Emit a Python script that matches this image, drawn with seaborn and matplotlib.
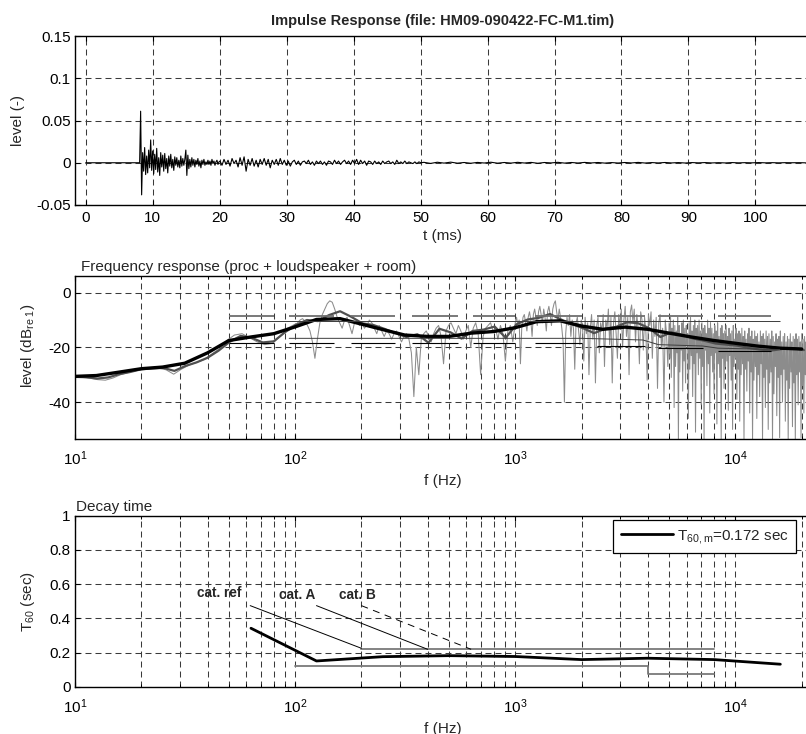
import numpy as np
import pandas as pd
import matplotlib
matplotlib.use("Agg")
import matplotlib.pyplot as plt
from matplotlib.ticker import FixedLocator, FuncFormatter, LogLocator, NullFormatter
import seaborn as sns

# ---------------------------------------------------------------- data
# impulse response, three sample blocks (values in 1e-3), start time (ms), step (ms)
ir_a_start, ir_a_step = 7.9, 0.15
ir_a = [0, 0, 61, -38, 12, -10, 18, -14, 8, -12, 15, -6, 27, -9, 14, -13, 10, -8, 17, -11,
        6, -15, 12, -5, 9, -10, 11, -7, 5, -12, 8, -4, 10, -6, 4, -9, 7, -3, 6, -5,
        3, -6, 8, -4, 5, -3, 4, 15, -15, 9, -7, 4, -5, 6, -3, 4, -5, 3, -2, 5,
        -4, 2, -6, 3, -2, 4, -3, 1, -2, 3, -2, 2, -3, 4, -1, 2, -3, 1, 3, -2, 1]
ir_b_start, ir_b_step = 20.05, 0.3
ir_b = [2, -3, 4, -2, 3, -4, 5, -1, 3, -5, 6, -3, 7, -10, 4, -3, 5,
        -4, 3, -5, 4, -2, 5, -3, 4, -6, 3, -2, 4, -3, 5, -2, 3,
        -3, 2, -4, 1, 3, -2, 2, -3, 1, 2, -1, 3, -2, 1, -3, 2, -1,
        2, -2, 1, -3, 2, 1, -2, 3, -1, 2, -2, 1, 3, -1, 2, -2, 3,
        -1, 4, -2, 3, -1, 2, -3, 2, 1, -2, 2, -1, 1, -2, 2, -1, 1,
        2, -1, 1, -2, 3, -1, 1, -1, 2, -1, 1, 0, -1, 1, -1, 1, 0]
ir_c_start, ir_c_step = 50.5, 1.0
ir_c = [0.5, -0.8, 0.6, -0.4, 0.7, -0.5, 0.3, -0.6, 0.4, -0.3, 0.6, -0.5, 0.3, -0.4, 0.5,
        -0.3, 0.4, -0.6, 0.3, -0.2, 0.5, -0.4, 0.3, -0.3, 0.4, -0.2, 0.3, -0.4, 0.2, -0.3,
        0.3, -0.2, 0.4, -0.3, 0.2, -0.2, 0.3, -0.2, 0.2, -0.3, 0.2, -0.1, 0.2, -0.2, 0.1,
        -0.2, 0.2, -0.1, 0.1, -0.1, 0.2, -0.1, 0.1, -0.1, 0.1, 0, 0.1, -0.1]

# frequency response: raw spectrum in four log-spaced blocks (dB)
raw_blocks = [
    (10, 100, [-30.8, -31.0, -31.3, -31.8, -32.0, -31.2, -30.0, -29.2, -28.5, -28.0,
               -27.7, -27.6, -28.2, -29.8, -28.0, -26.5, -25.5, -24.5, -22.5, -20.5,
               -17.5, -15.5, -15.0, -16.5, -18.0, -19.0, -18.5, -16.0, -13.0, -11.5]),
    (100, 1000, [-12, -11, -10, -9.5, -10.5, -12, -14, -18, -24, -17,
                 -11, -8, -6, -4, -3, -3.5, -6, -9, -11, -13,
                 -10, -9, -12, -15, -11, -10, -12, -11, -13, -12,
                 -10, -11, -13, -15, -12, -14, -16, -14, -15, -17,
                 -15, -14, -16, -18, -16, -15, -17, -22, -38, -20,
                 -30, -17, -15, -14, -16, -18, -15, -13, -12, -16,
                 -26, -14, -12, -11, -13, -15, -12, -14, -17, -14,
                 -12, -20, -13, -11, -15, -30, -16, -13, -12, -11,
                 -14, -13, -17, -12, -15, -25, -14, -12, -18, -11]),
    (1000, 5000, [-11, -9, -12, -10, -26, -13, -9, -8, -11, -14, -9, -7, -10, -16, -8, -6, -9, -12, -7, -5,
                  -8, -11, -6, -9, -14, -7, -5, -8, -12, -6, -4, -3, -7, -10, -6, -9, -13, -18, -40, -15,
                  -9, -12, -8, -16, -10, -13, -28, -11, -9, -14, -19, -10, -12, -25, -9, -15, -11, -30, -13, -8,
                  -17, -10, -33, -12, -9, -22, -11, -14, -8, -27, -10, -13, -6, -19, -9, -33, -11, -7, -15, -24,
                  -8, -12, -6, -20, -10, -5, -16, -9, -30, -7, -4.5, -11, -6, -18, -8, -13, -26, -7, -10, -21,
                  -9, -14, -32, -8, -12, -7, -24, -10, -16, -9, -35, -11, -8, -20, -13, -40, -10, -15, -27, -12]),
    (5000, 22050, [-11, -24, -9, -31, -13, -20, -10, -42, -12, -27, -14, -22, -9, -54, -12, -29, -15, -21, -11, -36,
                   -10, -25, -13, -33, -12, -19, -15, -46, -11, -28, -9, -23, -14, -38, -12, -26, -10, -51, -13, -22,
                   -12, -30, -10, -24, -14, -41, -11, -27, -13, -54, -12, -21, -15, -34, -10, -26, -13, -44, -11, -23,
                   -13, -29, -15, -37, -12, -22, -14, -48, -11, -26, -16, -31, -13, -54, -12, -24, -15, -35, -14, -27,
                   -12, -25, -16, -43, -13, -23, -15, -32, -14, -50, -12, -27, -17, -24, -13, -39, -15, -28, -14, -47,
                   -15, -30, -13, -26, -16, -54, -14, -28, -17, -36, -15, -25, -13, -44, -16, -29, -14, -54, -17, -32,
                   -14, -27, -16, -46, -15, -30, -18, -38, -14, -26, -16, -54, -15, -31, -17, -42, -14, -28, -16, -50,
                   -15, -33, -17, -29, -14, -54, -16, -37, -18, -27, -15, -45, -17, -31, -16, -53, -14, -30, -18, -40,
                   -16, -28, -15, -47, -18, -32, -16, -54, -17, -35, -15, -29, -18, -49, -16, -33, -17, -54, -15, -30,
                   -17, -41, -16, -29, -18, -53, -15, -34, -17, -44, -16, -30, -18, -54, -17, -36, -16, -46, -18, -31]),
]

# 1/6-octave smoothed response, bands from 10 Hz
sixth_start = 10.0
sixth_db = [-30.8, -30.9, -31.4, -31.0, -29.8, -29.0, -28.0, -27.7, -27.5, -28.6,
            -26.8, -25.5, -23.8, -21.2, -18.0, -15.8, -16.5, -18.2, -17.8, -14.5,
            -11.8, -10.0, -10.4, -8.2, -6.8, -8.8, -11.2, -11.8, -13.2, -14.8,
            -16.2, -15.2, -18.3, -13.2, -14.5, -16.8, -14.0, -13.5, -12.4, -16.5,
            -11.5, -9.8, -9.2, -7.8, -9.8, -11.5, -13.0, -14.8, -13.2, -12.5,
            -10.8, -11.2, -13.0, -16.2, -14.5, -15.5, -16.8, -17.6, -18.6, -19.0,
            -19.4, -20.2, -20.8, -21.2, -20.6, -20.3, -21.0]

# 1/3-octave smoothed response
third_hz = [10, 12.5, 16, 20, 25, 31.5, 40, 50, 63, 80, 100, 125, 160, 200, 250, 315, 400,
            500, 630, 800, 1000, 1250, 1600, 2000, 2500, 3150, 4000, 5000, 6300, 8000,
            10000, 12500, 16000, 20000]
third_db = [-30.6, -30.3, -29.0, -27.8, -27.2, -25.8, -22.0, -17.5, -16.2, -15.0, -12.5,
            -9.8, -9.5, -11.5, -13.5, -15.5, -16.0, -16.0, -14.8, -14.2, -12.8, -10.6,
            -10.3, -12.2, -13.4, -12.6, -13.4, -14.8, -16.2, -17.5, -18.5, -19.5, -20.3, -20.6]

# tolerance band segments
tol_lo_hz = [50, 94, 180, 340, 644, 1235, 2360, 4470, 8330]
tol_hi_hz = [80, 150, 285, 551, 1000, 2000, 3900, 7100, 14500]
tol_upper_db = [-8.5] * 9
tol_lower_db = [-18.5, -18.5, -18.5, -18.5, -18.5, -18.5, -19.5, -20.3, -21.3]
ref_upper = (50, 15900, -10.3)
ref_lower_hz = [94, 2000, 3800, 4470, 7100, 8330, 15900]
ref_lower_db = [-16.7, -16.7, -17.3, -19.0, -19.5, -20.3, -20.8]

# decay time per octave band
oct_hz = [63, 125, 250, 500, 1000, 2000, 4000, 8000, 16000]
t60 = [0.343, 0.152, 0.177, 0.183, 0.178, 0.160, 0.168, 0.160, 0.133]
t60_mean = 0.172
cat_ref = ([62.5, 200], [0.475, 0.226])
cat_a = ([125, 400], [0.475, 0.22])
cat_b = ([200, 630], [0.475, 0.22])
lim_upper_hz, lim_upper = [200, 8000], [0.222, 0.222]
lim_lower_hz = [100, 4000, 4000, 8000]
lim_lower = [0.124, 0.124, 0.076, 0.076]

# ---------------------------------------------------------------- style
sns.set_style("ticks")
plt.rcParams.update({
    "font.family": ["Liberation Sans", "DejaVu Sans"],
    "font.size": 11,
    "mathtext.fontset": "custom",
    "mathtext.rm": "Liberation Sans",
    "mathtext.it": "Liberation Sans:italic",
    "mathtext.bf": "Liberation Sans:bold",
    "axes.unicode_minus": False,
    "lines.scale_dashes": False,
    "axes.edgecolor": "black",
    "axes.linewidth": 1.0,
    "xtick.direction": "in", "ytick.direction": "in",
    "xtick.top": True, "ytick.right": True,
    "xtick.major.size": 3.5, "ytick.major.size": 3.5,
    "xtick.minor.size": 2.2, "ytick.minor.size": 2.2,
    "xtick.major.width": 0.8, "ytick.major.width": 0.8,
    "xtick.minor.width": 0.7,
    "xtick.color": "black", "ytick.color": "black",
    "xtick.labelsize": 11, "ytick.labelsize": 11,
    "xtick.major.pad": 4, "ytick.major.pad": 3,
})

W, H = 806, 734
fig = plt.figure(figsize=(W / 100, H / 100), dpi=100)


def axes_px(left, top, right, bottom):
    return fig.add_axes([left / W, 1 - bottom / H, (right - left) / W, (bottom - top) / H])


grid_kw = dict(linestyle=(0, (4.3, 2.9)), color="#3a3a3a", linewidth=0.75)
gfmt = FuncFormatter(lambda v, p: "%g" % v)

# ---------------------------------------------------------------- impulse response
ax1 = axes_px(75, 36, 811, 205)
t_ms = np.concatenate([[0.0],
                       ir_a_start + np.arange(len(ir_a)) * ir_a_step,
                       ir_b_start + np.arange(len(ir_b)) * ir_b_step,
                       ir_c_start + np.arange(len(ir_c)) * ir_c_step])
level = np.concatenate([[0.0], ir_a, ir_b, ir_c]) * 1e-3
ir_df = pd.DataFrame({"t": t_ms, "level": level})
sns.lineplot(data=ir_df, x="t", y="level", ax=ax1, color="black", linewidth=0.8,
             estimator=None, sort=False)
ax1.set_xlim(-1.6, 108.3)
ax1.set_ylim(-0.05, 0.15)
ax1.xaxis.set_major_locator(FixedLocator(np.arange(0, 101, 10)))
ax1.yaxis.set_major_locator(FixedLocator([-0.05, 0, 0.05, 0.1, 0.15]))
ax1.yaxis.set_major_formatter(gfmt)
ax1.set_axisbelow(True)
ax1.grid(True, which="major", **grid_kw)
ax1.set_title("Impulse Response (file: HM09-090422-FC-M1.tim)", fontsize=10.5,
              fontweight="bold", pad=8)
ax1.set_xlabel("t (ms)", labelpad=3)
ax1.set_ylabel("level (-)")
ax1.yaxis.set_label_coords(-0.068, 0.5)


def log_axis(ax):
    ax.set_xscale("log")
    ax.set_xlim(10, 22050)
    ax.xaxis.set_major_locator(LogLocator(base=10, numticks=10))
    ax.xaxis.set_minor_locator(LogLocator(base=10, subs=np.arange(2, 10), numticks=40))
    ax.xaxis.set_minor_formatter(NullFormatter())
    ax.tick_params(axis="x", which="major", pad=7.5)
    ax.set_axisbelow(True)
    ax.grid(True, which="both", axis="x", **grid_kw)
    ax.grid(True, which="major", axis="y", **grid_kw)


# ---------------------------------------------------------------- frequency response
ax2 = axes_px(75, 275.7, 811, 439)
log_axis(ax2)
raw_frames = []
for f0, f1, vals in raw_blocks:
    f = np.geomspace(f0, f1, len(vals))
    raw_frames.append(pd.DataFrame({"f": f, "db": vals}))
raw_df = pd.concat(raw_frames, ignore_index=True)
sns.lineplot(data=raw_df, x="f", y="db", ax=ax2, color="#8c8c8c", linewidth=0.75,
             estimator=None, sort=False)
sixth_df = pd.DataFrame({"f": sixth_start * 2.0 ** (np.arange(len(sixth_db)) / 6), "db": sixth_db})
sns.lineplot(data=sixth_df, x="f", y="db", ax=ax2, color="#505050", linewidth=1.6,
             estimator=None, sort=False)
third_df = pd.DataFrame({"f": third_hz, "db": third_db})
sns.lineplot(data=third_df, x="f", y="db", ax=ax2, color="black", linewidth=2.4,
             estimator=None, sort=False)
ax2.hlines(tol_upper_db, tol_lo_hz, tol_hi_hz, colors="#6e6e6e", linewidth=1.3)
ax2.hlines(tol_lower_db, tol_lo_hz, tol_hi_hz, colors="black", linewidth=0.8)
ax2.hlines(ref_upper[2], ref_upper[0], ref_upper[1], colors="#3c3c3c", linewidth=0.7)
sns.lineplot(x=ref_lower_hz, y=ref_lower_db, ax=ax2, color="#3c3c3c", linewidth=0.7,
             estimator=None, sort=False)
ax2.set_ylim(-53.5, 6.2)
ax2.yaxis.set_major_locator(FixedLocator([-40, -20, 0]))
ax2.yaxis.set_major_formatter(gfmt)
ax2.set_xlabel("f (Hz)", labelpad=4)
ax2.set_ylabel(r"level (dB$_\mathregular{re\ 1}$)")
ax2.yaxis.set_label_coords(-0.052, 0.57)
ax2.text(6 / 736, 1.01, "Frequency response (proc + loudspeaker + room)",
         transform=ax2.transAxes, ha="left", va="bottom", fontsize=11)

# ---------------------------------------------------------------- decay time
ax3 = axes_px(75, 515.7, 811, 687)
log_axis(ax3)
sns.lineplot(x=lim_upper_hz, y=lim_upper, ax=ax3, color="#7a7a7a", linewidth=1.3,
             estimator=None, sort=False)
sns.lineplot(x=lim_lower_hz, y=lim_lower, ax=ax3, color="#7a7a7a", linewidth=1.3,
             estimator=None, sort=False)
sns.lineplot(x=cat_ref[0], y=cat_ref[1], ax=ax3, color="black", linewidth=0.7,
             estimator=None, sort=False)
sns.lineplot(x=cat_a[0], y=cat_a[1], ax=ax3, color="black", linewidth=0.7,
             estimator=None, sort=False)
sns.lineplot(x=cat_b[0], y=cat_b[1], ax=ax3, color="black", linewidth=0.7,
             linestyle=(0, (5, 4)), estimator=None, sort=False)
sns.lineplot(x=oct_hz, y=t60, ax=ax3, color="black", linewidth=2.0,
             estimator=None, sort=False, label=r"T$_\mathregular{60,m}$=%.3f sec" % t60_mean)
for txt, fx, ty in [("cat. ref", 45.3, 0.549), ("cat. A", 102, 0.537), ("cat. B", 191, 0.537)]:
    ax3.text(fx, ty, txt, ha="center", va="center", fontsize=9.8, fontweight="bold")
ax3.set_ylim(0, 1)
ax3.yaxis.set_major_locator(FixedLocator([0, 0.2, 0.4, 0.6, 0.8, 1.0]))
ax3.yaxis.set_major_formatter(gfmt)
ax3.set_xlabel("f (Hz)", labelpad=4)
ax3.set_ylabel(r"T$_\mathregular{60}$ (sec)")
ax3.yaxis.set_label_coords(-0.052, 0.5)
ax3.text(1 / 736, 1.01, "Decay time", transform=ax3.transAxes, ha="left", va="bottom",
         fontsize=11)
leg = ax3.legend(loc="upper right", bbox_to_anchor=((796 - 75) / 736, (687 - 520) / 171.3),
                 borderaxespad=0, fancybox=False, framealpha=1, edgecolor="black",
                 handlelength=3.4, handletextpad=0.25, borderpad=0.5, fontsize=11)
leg.get_frame().set_linewidth(0.9)

fig.savefig("out.png", dpi=100)
